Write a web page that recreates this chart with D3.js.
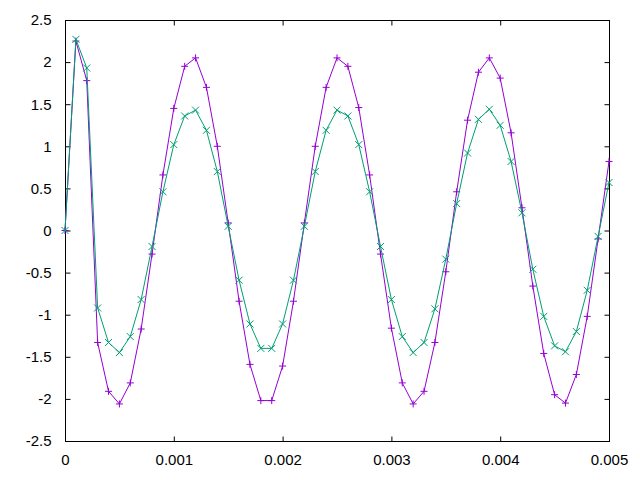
<!DOCTYPE html>
<html>
<head>
<meta charset="utf-8">
<script src="https://cdn.jsdelivr.net/npm/d3@7"></script>
<style>
  html, body { margin: 0; padding: 0; background: #fff; }
  svg { display: block; }
  .tick text { font-family: "Liberation Sans", Arial, sans-serif; font-size: 15px; fill: #000; }
</style>
</head>
<body>
<svg id="chart" width="640" height="480"></svg>
<script>
// time samples (s)
const times = [
  0, 0.0001, 0.0002, 0.0003, 0.0004, 0.0005, 0.0006, 0.0007, 0.0008, 0.0009,
  0.0010, 0.0011, 0.0012, 0.0013, 0.0014, 0.0015, 0.0016, 0.0017, 0.0018, 0.0019,
  0.0020, 0.0021, 0.0022, 0.0023, 0.0024, 0.0025, 0.0026, 0.0027, 0.0028, 0.0029,
  0.0030, 0.0031, 0.0032, 0.0033, 0.0034, 0.0035, 0.0036, 0.0037, 0.0038, 0.0039,
  0.0040, 0.0041, 0.0042, 0.0043, 0.0044, 0.0045, 0.0046, 0.0047, 0.0048, 0.0049,
  0.0050
];
// series 1 (purple, "+")
const series1 = [
  0, 2.25, 1.78, -1.33, -1.91, -2.06, -1.81, -1.17, -0.28, 0.66,
  1.45, 1.95, 2.05, 1.70, 1.00, 0.09, -0.84, -1.59, -2.02, -2.02,
  -1.61, -0.84, 0.09, 1.00, 1.70, 2.05, 1.95, 1.46, 0.66, -0.28,
  -1.16, -1.81, -2.06, -1.91, -1.33, -0.49, 0.46, 1.31, 1.88, 2.05,
  1.81, 1.16, 0.27, -0.66, -1.46, -1.95, -2.05, -1.71, -1.02, -0.10,
  0.82
];
// series 2 (green, "x")
const series2 = [
  0, 2.27, 1.93, -0.92, -1.33, -1.45, -1.26, -0.82, -0.19, 0.46,
  1.02, 1.36, 1.43, 1.19, 0.70, 0.05, -0.59, -1.11, -1.40, -1.40,
  -1.11, -0.59, 0.05, 0.70, 1.19, 1.43, 1.36, 1.02, 0.46, -0.19,
  -0.82, -1.26, -1.45, -1.33, -0.93, -0.34, 0.32, 0.92, 1.32, 1.44,
  1.25, 0.82, 0.21, -0.46, -1.02, -1.37, -1.44, -1.20, -0.71, -0.07,
  0.57
];
const xTicks = [0, 0.001, 0.002, 0.003, 0.004, 0.005];
const xTickLabels = ["0", "0.001", "0.002", "0.003", "0.004", "0.005"];
const yTicks = [-2.5, -2, -1.5, -1, -0.5, 0, 0.5, 1, 1.5, 2, 2.5];
const yTickLabels = ["-2.5", "-2", "-1.5", "-1", "-0.5", "0", "0.5", "1", "1.5", "2", "2.5"];

const svg = d3.select("#chart");
const L = 65, R = 609, T = 20, B = 441;
const x = d3.scaleLinear().domain([0, 0.005]).range([L, R]);
const y = d3.scaleLinear().domain([-2.5, 2.5]).range([B, T]);

// axes
function styleAxis(g) {
  g.select(".domain").remove();
  g.selectAll(".tick line").attr("stroke", "#000").attr("stroke-width", 1);
}
svg.append("g").attr("transform", `translate(${L + 0.5},0)`)
  .call(d3.axisLeft(y).tickValues(yTicks).tickFormat((d, i) => yTickLabels[i]).tickSize(-5).tickSizeOuter(0).tickPadding(14))
  .call(styleAxis).call(g => g.selectAll(".tick text").attr("font-family", null));
svg.append("g").attr("transform", `translate(${R + 0.5},0)`)
  .call(d3.axisRight(y).tickValues(yTicks).tickFormat("").tickSize(-5).tickSizeOuter(0))
  .call(styleAxis);
svg.append("g").attr("transform", `translate(0,${B + 0.5})`)
  .call(d3.axisBottom(x).tickValues(xTicks).tickFormat((d, i) => xTickLabels[i]).tickSize(-5).tickSizeOuter(0).tickPadding(13))
  .call(styleAxis);
svg.append("g").attr("transform", `translate(0,${T + 0.5})`)
  .call(d3.axisTop(x).tickValues(xTicks).tickFormat("").tickSize(-5).tickSizeOuter(0))
  .call(styleAxis);
svg.selectAll(".tick text").attr("font-family", null).attr("font-size", null);

// frame
svg.append("rect").attr("x", L + 0.5).attr("y", T + 0.5)
  .attr("width", R - L).attr("height", B - T)
  .attr("fill", "none").attr("stroke", "#000").attr("stroke-width", 1);

// series
const series = [
  { values: series1, color: "#9400d3", marker: "plus" },
  { values: series2, color: "#009e73", marker: "cross" }
];
const line = d3.line().x((d, i) => x(times[i])).y(d => y(d));
const m = 3.5;
series.forEach(s => {
  const g = svg.append("g");
  g.append("path").datum(s.values).attr("d", line)
    .attr("fill", "none").attr("stroke", s.color).attr("stroke-width", 1);
  g.selectAll("path.mk").data(s.values).join("path").attr("class", "mk")
    .attr("d", (d, i) => {
      const cx = x(times[i]), cy = y(d);
      if (s.marker === "plus")
        return `M${cx - m},${cy}H${cx + m}M${cx},${cy - m}V${cy + m}`;
      return `M${cx - m},${cy - m}L${cx + m},${cy + m}M${cx - m},${cy + m}L${cx + m},${cy - m}`;
    })
    .attr("fill", "none").attr("stroke", s.color).attr("stroke-width", 1);
});
</script>
</body>
</html>
